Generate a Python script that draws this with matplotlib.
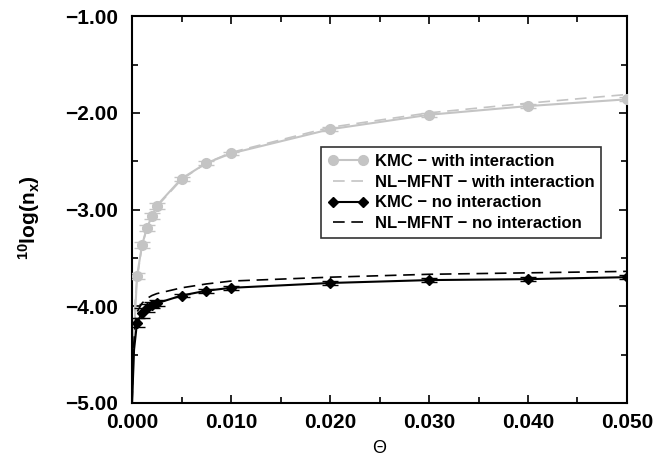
import numpy as np
import matplotlib
matplotlib.use("Agg")
import matplotlib.pyplot as plt
from matplotlib.ticker import MultipleLocator, FuncFormatter

plt.rcParams['font.family'] = ['Liberation Sans', 'DejaVu Sans']
plt.rcParams['mathtext.fontset'] = 'custom'
plt.rcParams['mathtext.bf'] = 'Liberation Sans:bold'
plt.rcParams['mathtext.rm'] = 'Liberation Sans'

# KMC data (coverage vs 10log of n_x)
theta_kmc = [0.0005, 0.001, 0.0015, 0.002, 0.0025, 0.005, 0.0075, 0.01, 0.02, 0.03, 0.04, 0.05]
kmc_with = [-3.69, -3.37, -3.19, -3.07, -2.96, -2.68, -2.52, -2.42, -2.17, -2.02, -1.93, -1.86]
kmc_with_err = [0.03, 0.03, 0.03, 0.03, 0.03, 0.02, 0.02, 0.02, 0.02, 0.02, 0.02, 0.02]
kmc_no = [-4.17, -4.07, -4.02, -3.99, -3.97, -3.89, -3.84, -3.81, -3.76, -3.73, -3.72, -3.70]
kmc_no_err = [0.05, 0.05, 0.04, 0.03, 0.03, 0.02, 0.02, 0.02, 0.02, 0.02, 0.02, 0.02]

# line start at theta -> 0
theta_start = [0.0, 0.0002]
kmc_with_start = [-5.0, -4.3]
kmc_no_start = [-5.0, -4.45]

# NL-MFNT curves
theta_nl = [0.0, 0.0001, 0.0003, 0.0005, 0.001, 0.0015, 0.002, 0.0025, 0.005,
            0.0075, 0.01, 0.02, 0.03, 0.04, 0.05]
nl_with = [-5.0, -4.4, -3.95, -3.72, -3.38, -3.19, -3.07, -2.97, -2.69,
           -2.52, -2.41, -2.15, -2.00, -1.90, -1.81]
nl_no = [-5.0, -4.5, -4.2, -4.06, -3.97, -3.92, -3.89, -3.87, -3.81,
         -3.77, -3.74, -3.70, -3.67, -3.655, -3.64]

gray = '#c4c4c4'

fig, ax = plt.subplots(figsize=(6.67, 4.62), dpi=100)
fig.subplots_adjust(left=0.198, right=0.94, top=0.965, bottom=0.128)

ax.plot(theta_start + theta_kmc, kmc_with_start + kmc_with, color=gray, lw=1.5, zorder=2)
ax.errorbar(theta_kmc, kmc_with, yerr=kmc_with_err, fmt='o', color=gray, ms=7,
            capsize=6, elinewidth=1.2, zorder=3)
ax.plot([], [], color=gray, lw=1.5, marker='o', ms=7, label='KMC \u2212 with interaction')
ax.plot(theta_nl, nl_with, color=gray, lw=1.2, ls=(0, (7, 4)),
        label='NL\u2212MFNT \u2212 with interaction', zorder=2)

ax.plot(theta_start + theta_kmc, kmc_no_start + kmc_no, color='black', lw=1.5, zorder=4)
ax.errorbar(theta_kmc, kmc_no, yerr=kmc_no_err, fmt='D', color='black', ms=5.5,
            capsize=6, elinewidth=1.2, zorder=5)
ax.plot([], [], color='black', lw=1.5, marker='D', ms=5.5, label='KMC \u2212 no interaction')
ax.plot(theta_nl, nl_no, color='black', lw=1.2, ls=(0, (7, 4)),
        label='NL\u2212MFNT \u2212 no interaction', zorder=4)

ax.set_xlim(0, 0.05)
ax.set_ylim(-5, -1)
ax.xaxis.set_major_locator(MultipleLocator(0.01))
ax.xaxis.set_minor_locator(MultipleLocator(0.005))
ax.yaxis.set_major_locator(MultipleLocator(1.0))
ax.yaxis.set_minor_locator(MultipleLocator(0.5))
ax.xaxis.set_major_formatter(FuncFormatter(lambda v, p: f"{v:.3f}"))
ax.yaxis.set_major_formatter(FuncFormatter(lambda v, p: f"{v:.2f}".replace('-', '\u2212')))
ax.tick_params(which='both', direction='in', top=True, right=True, width=1.2)
ax.tick_params(which='major', length=6, labelsize=15)
ax.tick_params(axis='x', which='major', pad=7)
ax.tick_params(axis='y', which='major', pad=10)
ax.tick_params(which='minor', length=4)
for lab in ax.get_xticklabels() + ax.get_yticklabels():
    lab.set_fontweight('bold')
for s in ax.spines.values():
    s.set_linewidth(1.5)

ax.set_xlabel('\u0398', fontsize=13, labelpad=6)
ax.set_ylabel(r'$\mathbf{^{10}log(n_x)}$', fontsize=15)
ax.yaxis.set_label_coords(-0.182, 0.48)

leg = ax.legend(loc='lower right', bbox_to_anchor=(0.964, 0.405), numpoints=2,
                prop={'weight': 'bold', 'size': 12}, frameon=True, fancybox=False,
                edgecolor='black', handlelength=2.4, borderpad=0.4, labelspacing=0.35,
                handletextpad=0.4)
leg.get_frame().set_linewidth(1.2)

plt.savefig("out.png", dpi=100)
